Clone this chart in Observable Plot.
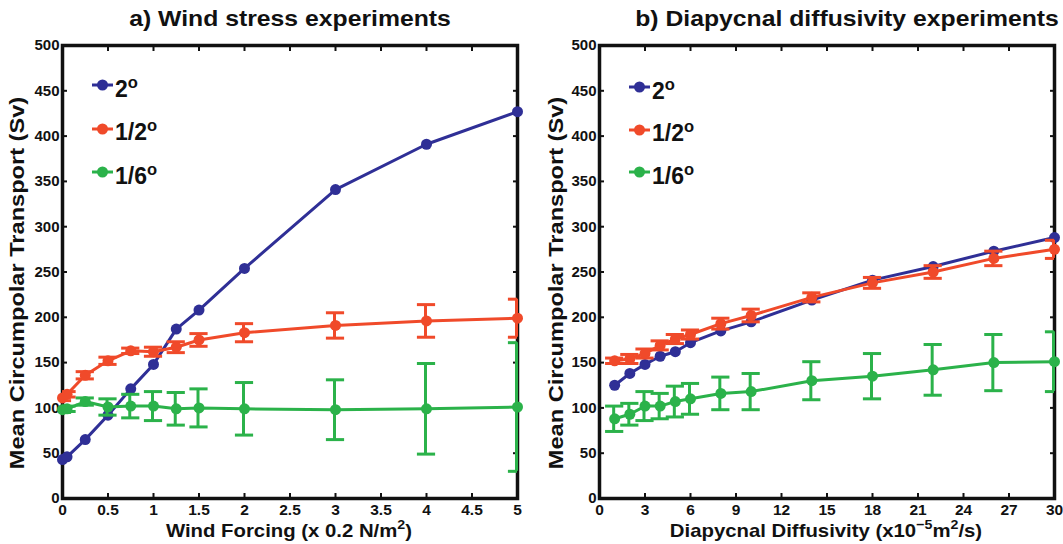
<!DOCTYPE html>
<html>
<head>
<meta charset="utf-8">
<script src="https://cdn.jsdelivr.net/npm/d3@7"></script>
<script src="https://cdn.jsdelivr.net/npm/@observablehq/plot@0.6"></script>
<style>
  html, body { margin: 0; padding: 0; background: #fff; }
  #chart { position: relative; width: 1063px; height: 544px; overflow: hidden;
    font-family: "Liberation Sans", Arial, Helvetica, sans-serif; font-weight: bold; color: #111; }
  .abs { position: absolute; white-space: nowrap; line-height: 1; }
  sup { line-height: 0; }
  .leg { position: absolute; display: flex; align-items: center; font-size: 23px; line-height: 1; white-space: nowrap; }
  .leg svg { display: block; }
</style>
</head>
<body>
<div id="chart"></div>
<script>
// ---------- data ----------
const yTicks = [0, 50, 100, 150, 200, 250, 300, 350, 400, 450, 500];

// a) Wind stress experiments
const windX = [0, 0.05, 0.25, 0.5, 0.75, 1, 1.25, 1.5, 2, 3, 4, 5];
const windTicks = [0, 0.5, 1, 1.5, 2, 2.5, 3, 3.5, 4, 4.5, 5];
const wind2deg = [43, 46, 65, 92, 121, 148, 187, 208, 254, 341, 391, 427];
const windHalf = [111, 115, 136, 152, 163, 162, 167, 175, 183, 191, 196, 199];
const windHalfErr = [3, 3, 4, 4, 3, 5, 6, 7, 10, 14, 18, 21];
const windSixth = [98, 99, 107, 101, 102, 102, 99, 100, 99, 98, 99, 101];
const windSixthErr = [3, 3, 4, 9, 13, 16, 18, 21, 29, 33, 50, 71];

// b) Diapycnal diffusivity experiments
const diffX = [1, 2, 3, 4, 5, 6, 8, 10, 14, 18, 22, 26, 30];
const diffTicks = [0, 3, 6, 9, 12, 15, 18, 21, 24, 27, 30];
const diff2deg = [125, 138, 148, 157, 162, 172, 185, 195, 219, 241, 256, 273, 288];
const diffHalf = [152, 154, 160, 169, 176, 181, 193, 202, 222, 238, 250, 265, 275];
const diffHalfErr = [3, 5, 5, 5, 5, 5, 6, 7, 5, 6, 7, 8, 10];
const diffSixth = [88, 93, 102, 102, 107, 110, 116, 118, 130, 135, 142, 150, 151];
const diffSixthErr = [14, 12, 16, 14, 17, 17, 18, 20, 21, 25, 28, 31, 33];

const seriesNames = ["2", "1/2", "1/6"];
const colors = ["#2f2f96", "#f04a2a", "#2bb24a"];

// ---------- drawing ----------
const chart = document.getElementById("chart");

function rowsOf(xs, ys, es) {
  return xs.map((x, i) => ({x, y: ys[i], e: es ? es[i] : 0}));
}

function panel(cfg) {
  const {left, width, mLeft, mRight, xDomain, xTicks, xs, ys, errs, capW} = cfg;
  const marks = [
    Plot.frame({stroke: "#111", strokeWidth: 3.5}),
    Plot.axisY({anchor: "left", ticks: yTicks, tickSize: 0, tickPadding: 3, label: null, fontSize: 15}),
    Plot.axisY({anchor: "left", ticks: yTicks, tickSize: 5, dx: 5, tickFormat: () => "", label: null, strokeWidth: 2}),
    Plot.axisY({anchor: "right", ticks: yTicks, tickSize: 5, dx: -5, tickFormat: () => "", label: null, strokeWidth: 2}),
    Plot.axisX({anchor: "bottom", ticks: xTicks, tickSize: 0, tickPadding: 5, tickFormat: d => String(d), label: null, fontSize: 15.5}),
    Plot.axisX({anchor: "bottom", ticks: xTicks, tickSize: 5, dy: -5, tickFormat: () => "", label: null, strokeWidth: 2}),
    Plot.axisX({anchor: "top", ticks: xTicks, tickSize: 5, dy: 5, tickFormat: () => "", label: null, strokeWidth: 2})
  ];
  ys.forEach((yv, k) => {
    const rows = rowsOf(xs, yv, errs[k]);
    const c = colors[k];
    marks.push(Plot.line(rows, {x: "x", y: "y", stroke: c, strokeWidth: 3}));
    if (errs[k]) {
      marks.push(Plot.ruleX(rows, {x: "x", y1: d => d.y - d.e, y2: d => d.y + d.e, stroke: c, strokeWidth: 3, dx: -1}));
      marks.push(Plot.ruleY(rows, {y: d => d.y - d.e, x1: d => d.x - capW, x2: d => d.x + capW, stroke: c, strokeWidth: 3, clip: true}));
      marks.push(Plot.ruleY(rows, {y: d => d.y + d.e, x1: d => d.x - capW, x2: d => d.x + capW, stroke: c, strokeWidth: 3, clip: true}));
    }
    marks.push(Plot.dot(rows, {x: "x", y: "y", r: 5.5, fill: c}));
  });

  const svg = Plot.plot({
    width, height: 544,
    marginLeft: mLeft, marginRight: mRight, marginTop: 45, marginBottom: 46,
    x: {domain: xDomain},
    y: {domain: [0, 500]},
    style: {fontFamily: "'Liberation Sans', Arial, Helvetica, sans-serif", fontWeight: "bold", fontSize: "15px", color: "#111", background: "transparent", overflow: "visible"},
    marks
  });
  svg.style.position = "absolute";
  svg.style.left = left + "px";
  svg.style.top = "0px";
  chart.appendChild(svg);
}

function addText(html, x, y, size, sx, extra) {
  const d = document.createElement("div");
  d.className = "abs";
  d.innerHTML = html;
  d.style.left = x + "px";
  d.style.top = y + "px";
  d.style.fontSize = size + "px";
  d.style.transform = extra || `translateX(-50%) scaleX(${sx})`;
  chart.appendChild(d);
  return d;
}

function addLegend(x, y0, step) {
  seriesNames.forEach((name, k) => {
    const d = document.createElement("div");
    d.className = "leg";
    d.style.left = x + "px";
    d.style.top = (y0 + k * step - 14) + "px";
    d.innerHTML = `<svg width="22" height="28"><line x1="0" x2="21" y1="12" y2="12" stroke="${colors[k]}" stroke-width="3"/><circle cx="10.5" cy="12" r="5.5" fill="${colors[k]}"/></svg><span style="margin-left:1px;margin-top:4px">${name}<sup style="font-size:0.72em;vertical-align:0.55em">o</sup></span>`;
    chart.appendChild(d);
  });
}

panel({left: 0, width: 531, mLeft: 62, mRight: 14, xDomain: [0, 5], xTicks: windTicks,
  xs: windX, ys: [wind2deg, windHalf, windSixth], errs: [null, windHalfErr, windSixthErr], capW: 0.1});
panel({left: 537, width: 526, mLeft: 62, mRight: 9, xDomain: [0, 30], xTicks: diffTicks,
  xs: diffX, ys: [diff2deg, diffHalf, diffSixth], errs: [null, diffHalfErr, diffSixthErr], capW: 0.6});

addText("a) Wind stress experiments", 290, 8, 22.5, 1.1);
addText("b) Diapycnal diffusivity experiments", 847, 8, 22.5, 1.1);
addText("Wind Forcing (x 0.2 N/m<sup style='font-size:0.7em;vertical-align:0.6em'>2</sup>)", 289, 521, 19, 1.07);
addText("Diapycnal Diffusivity (x10<sup style='font-size:0.7em;vertical-align:0.6em'>−5</sup>m<sup style='font-size:0.7em;vertical-align:0.6em'>2</sup>/s)", 826, 521, 19, 1.07);
addText("Mean Circumpolar Transport (Sv)", 18, 283, 19.5, 1, "translate(-50%,-50%) rotate(-90deg) scaleX(1.21)");
addText("Mean Circumpolar Transport (Sv)", 557, 283, 19.5, 1, "translate(-50%,-50%) rotate(-90deg) scaleX(1.21)");

addLegend(92, 87, 43.5);
addLegend(629, 89, 42.5);
</script>
</body>
</html>
